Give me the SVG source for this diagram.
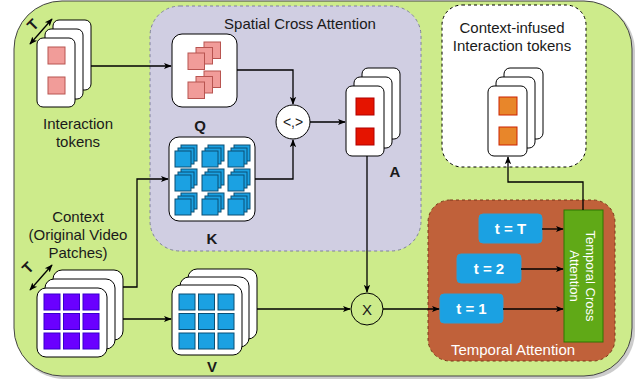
<svg xmlns="http://www.w3.org/2000/svg" width="637" height="381" viewBox="0 0 637 381">
<style>
text{font-family:"Liberation Sans",Arial,sans-serif;font-size:15px;fill:#1a1a1a}
.b{font-weight:bold}
.w{fill:#ffffff}
.card{fill:#ffffff;stroke:#000;stroke-width:1}
.pk{fill:#f19c99;stroke:#b85450;stroke-width:1}
.rd{fill:#e51400;stroke:#b20000;stroke-width:1}
.or{fill:#e8862a;stroke:#cc2200;stroke-width:1}
.bl{fill:#1ba1e2;stroke:#0b4f74;stroke-width:1}
.pu{fill:#6a00ff;stroke:#3700cc;stroke-width:1}
.tb{fill:#1ba1e2;stroke:#2a9fd6;stroke-width:1}
.ln{fill:none;stroke:#000;stroke-width:1.3}
.ae{marker-end:url(#arr)}
</style>
<defs>
<marker id="arr" viewBox="0 0 10 10" refX="9" refY="5" markerWidth="8" markerHeight="8" markerUnits="userSpaceOnUse" orient="auto-start-reverse">
<path d="M0,1 L10,5 L0,9 L2.5,5 z" fill="#000"/>
</marker>
<g id="bstack">
<rect x="6" y="-6" width="16" height="16" class="bl"/>
<rect x="3" y="-3" width="16" height="16" class="bl"/>
<rect x="0" y="0" width="16" height="16" class="bl"/>
</g>
<g id="pstack">
<rect x="16" y="-11" width="16.5" height="16.5" class="pk"/>
<rect x="8" y="-5.5" width="16.5" height="16.5" class="pk"/>
<rect x="0" y="0" width="16.5" height="16.5" class="pk"/>
</g>
</defs>

<g id="background">
<rect x="16" y="3" width="619" height="376" rx="48" fill="#999" opacity="0.5"/>
<rect x="14" y="1" width="618" height="375" rx="48" fill="#cdeb8b" stroke="#444" stroke-width="1"/>
</g>

<g id="spatial-cross-attention">
<rect x="150" y="6" width="271" height="245" rx="30" fill="#d0cee2" stroke="#7f7f9f" stroke-width="1" stroke-dasharray="3 3"/>
<text x="300" y="29" text-anchor="middle">Spatial Cross Attention</text>
</g>

<g id="context-infused-box">
<rect x="442" y="5" width="144" height="162" rx="20" fill="#ffffff" stroke="#000" stroke-width="1" stroke-dasharray="3 3"/>
<text x="512" y="33" text-anchor="middle">Context-infused</text>
<text x="512" y="51" text-anchor="middle">Interaction tokens</text>
</g>

<g id="temporal-attention">
<rect x="428" y="200" width="187" height="161" rx="22" fill="#c0613a" stroke="#7a3518" stroke-width="1" stroke-dasharray="3 3"/>
<text x="513" y="355" text-anchor="middle" class="w">Temporal Attention</text>
</g>

<g id="interaction-tokens">
<rect x="53" y="20" width="38" height="70" rx="6" class="card"/>
<rect x="45" y="29" width="38" height="70" rx="6" class="card"/>
<rect x="37" y="38" width="38" height="69" rx="6" class="card"/>
<rect x="48" y="47" width="17" height="17" class="pk"/>
<rect x="48" y="77" width="17" height="17" class="pk"/>
<path d="M30,44 L52,19" class="ln" marker-start="url(#arr)" marker-end="url(#arr)"/>
<text x="33" y="30" text-anchor="middle" transform="rotate(-45 33 25)" class="b" style="font-size:15px">T</text>
<text x="78" y="129" text-anchor="middle">Interaction</text>
<text x="78" y="147" text-anchor="middle">tokens</text>
</g>

<g id="Q">
<rect x="172" y="34" width="65" height="73" rx="10" class="card"/>
<use href="#pstack" x="188" y="53"/>
<use href="#pstack" x="188" y="82"/>
<text x="200" y="131" text-anchor="middle" class="b">Q</text>
</g>

<g id="K">
<rect x="169" y="137" width="86" height="84" rx="10" class="card"/>
<use href="#bstack" x="175" y="151"/>
<use href="#bstack" x="202" y="151"/>
<use href="#bstack" x="228" y="151"/>
<use href="#bstack" x="175" y="175"/>
<use href="#bstack" x="202" y="175"/>
<use href="#bstack" x="228" y="175"/>
<use href="#bstack" x="175" y="199"/>
<use href="#bstack" x="202" y="199"/>
<use href="#bstack" x="228" y="199"/>
<text x="212" y="244" text-anchor="middle" class="b">K</text>
</g>

<g id="dot-product">
<circle cx="293" cy="122" r="17" fill="#ffffff" stroke="#000" stroke-width="1"/>
<text x="293" y="127" text-anchor="middle" style="font-size:14px">&lt;,&gt;</text>
</g>

<g id="A">
<rect x="362" y="68" width="38" height="71" rx="6" class="card"/>
<rect x="354" y="77" width="38" height="71" rx="6" class="card"/>
<rect x="346" y="86" width="38" height="70" rx="6" class="card"/>
<rect x="356" y="98" width="18" height="17" class="rd"/>
<rect x="356" y="128" width="18" height="17" class="rd"/>
<text x="395" y="177" text-anchor="middle" class="b">A</text>
</g>

<g id="context">
<text x="78" y="222" text-anchor="middle">Context</text>
<text x="78" y="240" text-anchor="middle">(Original Video</text>
<text x="78" y="258" text-anchor="middle">Patches)</text>
<path d="M30,290 L52,265" class="ln" marker-start="url(#arr)" marker-end="url(#arr)"/>
<text x="28" y="273" text-anchor="middle" transform="rotate(-45 28 268)" class="b" style="font-size:15px">T</text>
<rect x="53" y="270" width="70" height="70" rx="9" class="card"/>
<rect x="45" y="279" width="70" height="70" rx="9" class="card"/>
<rect x="37" y="288" width="70" height="69" rx="9" class="card"/>
<rect x="44" y="294" width="16" height="16" class="pu"/>
<rect x="63.5" y="294" width="16" height="16" class="pu"/>
<rect x="83" y="294" width="16" height="16" class="pu"/>
<rect x="44" y="313.5" width="16" height="16" class="pu"/>
<rect x="63.5" y="313.5" width="16" height="16" class="pu"/>
<rect x="83" y="313.5" width="16" height="16" class="pu"/>
<rect x="44" y="333" width="16" height="16" class="pu"/>
<rect x="63.5" y="333" width="16" height="16" class="pu"/>
<rect x="83" y="333" width="16" height="16" class="pu"/>
</g>

<g id="V">
<rect x="188" y="269" width="69" height="70" rx="9" class="card"/>
<rect x="180" y="277" width="69" height="70" rx="9" class="card"/>
<rect x="172" y="285" width="70" height="70" rx="9" class="card"/>
<rect x="179" y="294" width="16" height="16" class="bl"/>
<rect x="198.5" y="294" width="16" height="16" class="bl"/>
<rect x="218" y="294" width="16" height="16" class="bl"/>
<rect x="179" y="313.5" width="16" height="16" class="bl"/>
<rect x="198.5" y="313.5" width="16" height="16" class="bl"/>
<rect x="218" y="313.5" width="16" height="16" class="bl"/>
<rect x="179" y="333" width="16" height="16" class="bl"/>
<rect x="198.5" y="333" width="16" height="16" class="bl"/>
<rect x="218" y="333" width="16" height="16" class="bl"/>
<text x="212" y="372" text-anchor="middle" class="b">V</text>
</g>

<g id="multiply">
<circle cx="367" cy="309" r="16" fill="#cdeb8b" stroke="#000" stroke-width="1"/>
<text x="367" y="314.5" text-anchor="middle">X</text>
</g>

<g id="t-T">
<rect x="479" y="214" width="63" height="29" rx="4" class="tb"/>
<text x="510.5" y="234" text-anchor="middle" class="b w">t = T</text>
</g>
<g id="t-2">
<rect x="457" y="254" width="64" height="29" rx="4" class="tb"/>
<text x="489" y="274" text-anchor="middle" class="b w">t = 2</text>
</g>
<g id="t-1">
<rect x="440" y="294" width="63" height="29" rx="4" class="tb"/>
<text x="471.5" y="314" text-anchor="middle" class="b w">t = 1</text>
</g>

<g id="temporal-cross-attention">
<rect x="564" y="210" width="39" height="132" fill="#60a917" stroke="#2d7600" stroke-width="1"/>
<text transform="translate(583 276) rotate(90)" text-anchor="middle" class="w" style="font-size:13px"><tspan x="0" y="-3">Temporal Cross</tspan><tspan x="0" y="13">Attention</tspan></text>
</g>

<g id="context-infused-tokens">
<rect x="504" y="68" width="39" height="71" rx="6" class="card"/>
<rect x="496" y="77" width="39" height="71" rx="6" class="card"/>
<rect x="488" y="86" width="39" height="70" rx="6" class="card"/>
<rect x="499" y="97" width="18" height="18" class="or"/>
<rect x="499" y="127" width="18" height="18" class="or"/>
</g>

<g id="connectors">
<path d="M91,66 H171" class="ln ae"/>
<path d="M237,70 H293 V104" class="ln ae"/>
<path d="M255,179 H293 V140" class="ln ae"/>
<path d="M310,122 H345" class="ln ae"/>
<path d="M367,156 V292" class="ln ae"/>
<path d="M123,287 H137 V179 H168" class="ln ae"/>
<path d="M123,319 H171" class="ln ae"/>
<path d="M257,309 H350" class="ln ae"/>
<path d="M383,309 H439" class="ln ae"/>
<path d="M542,229 H563" class="ln ae"/>
<path d="M521,269 H563" class="ln ae"/>
<path d="M503,309 H563" class="ln ae"/>
<path d="M583,210 V182 H508 V157" class="ln ae"/>
</g>
</svg>
